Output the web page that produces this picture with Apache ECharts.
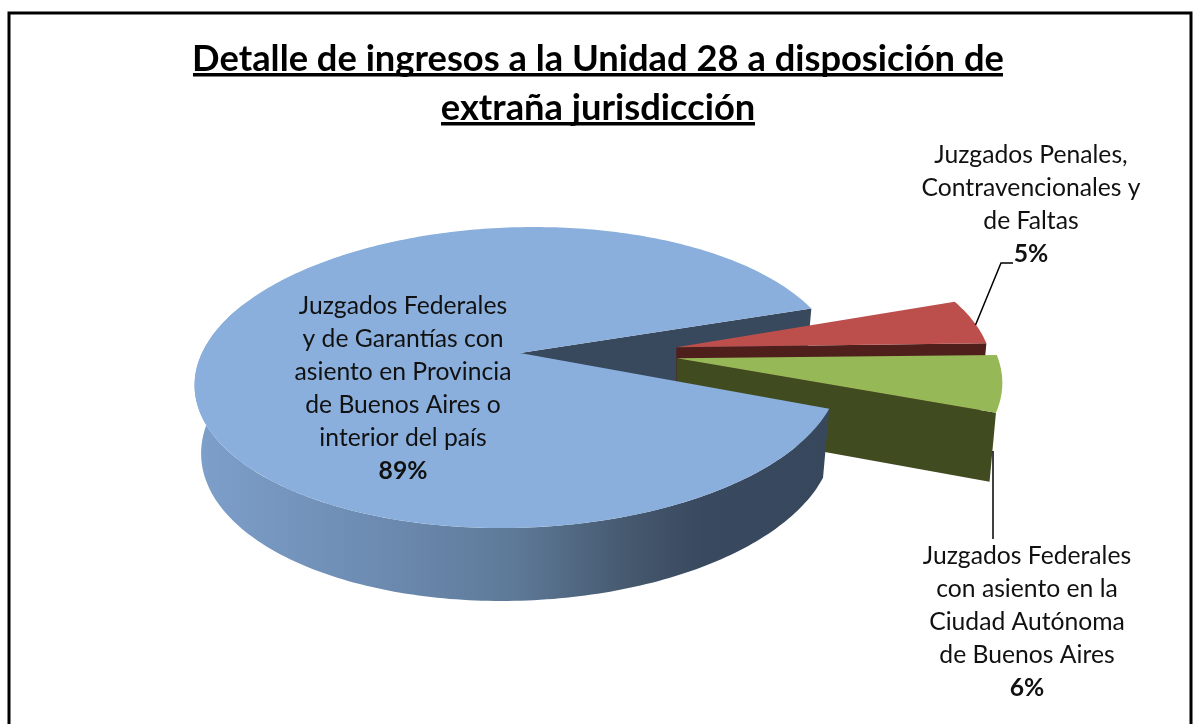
<!DOCTYPE html>
<html>
<head>
<meta charset="utf-8">
<title>Detalle de ingresos</title>
<script src="https://cdn.jsdelivr.net/npm/echarts@6/dist/echarts.min.js"></script>
<style>
  html, body { margin: 0; padding: 0; background: #fff; }
  #chart { width: 1196px; height: 724px; }
</style>
</head>
<body>
<div id="chart"></div>
<script>
// datos
const categories = [
  'Juzgados Federales\ny de Garantías con\nasiento en Provincia\nde Buenos Aires o\ninterior del país',
  'Juzgados Penales,\nContravencionales y\nde Faltas',
  'Juzgados Federales\ncon asiento en la\nCiudad Autónoma\nde Buenos Aires'
]
const values = [89, 5, 6]
const titleText = 'Detalle de ingresos a la Unidad 28 a disposición de\nextraña jurisdicción'

// estilo de cada porción
const explode = [0, 0.5, 0.5]
const sliceScale = [1, 0.98, 1.01]
const sliceSkew = [-16, 0, 0]
const sliceTurn = [0, -1, -0.6]
const topColors = ['#8aafdd', '#bc4f4b', '#97b857']
const wallColors = ['#38485d', '#4f1f1c', '#404b20']
const labelPos = [[403, 389], [1031, 205], [1027, 622]]
const labelFont = 'Lato'

// pie 3D: disco en perspectiva
const cx = 520, cy = 353
const rx = 318, ry = 146.5, persp = 0.163
const firstAngle = 21 // donde arranca la primera porción, en grados
const total = values.reduce((a, b) => a + b, 0)

const project = (deg, s, lower) => {
  const u = Math.cos(deg * Math.PI / 180)
  const v = Math.sin(deg * Math.PI / 180)
  const den = 1 - persp * v
  const x = (rx * s.scale * u + s.skew * v) / den
  const y = ry * s.scale * v / den
  if (!lower) return [cx + s.ox + x, cy + s.oy + y]
  const depth = 67 / (1 - persp * 0.5 * v)
  return [cx + s.ox + 0.98 * x, cy + s.oy + depth + y]
}

const arc = (from, to, s, lower) => {
  const pts = []
  const n = Math.max(2, Math.ceil(Math.abs(to - from)))
  for (let i = 0; i <= n; i++) pts.push(project(from + (to - from) * i / n, s, lower))
  return pts
}

const poly = (points, fill, z2) => ({
  type: 'polygon',
  shape: { points },
  style: { fill },
  z2
})

const blueWallGradient = {
  type: 'linear', x: 196, y: 0, x2: 829, y2: 0, global: true,
  colorStops: [
    { offset: 0, color: '#7d9fca' },
    { offset: 0.3, color: '#6c8ab0' },
    { offset: 0.5, color: '#5e7a99' },
    { offset: 0.68, color: '#46596f' },
    { offset: 0.8, color: '#39495f' },
    { offset: 1, color: '#37475c' }
  ]
}

const renderSlice = (params, api) => {
  const i = params.dataIndex
  const before = values.slice(0, i).reduce((a, b) => a + b, 0)
  const start = firstAngle + before / total * 360 + sliceTurn[i]
  const end = start + api.value(0) / total * 360
  const mid = (start + end) / 2
  const s = {
    ox: explode[i] * rx * Math.cos(mid * Math.PI / 180),
    oy: explode[i] * ry * Math.sin(mid * Math.PI / 180) * 0.42,
    scale: sliceScale[i],
    skew: sliceSkew[i]
  }
  const apex = [cx + s.ox, cy + s.oy]
  const apexLow = [apex[0], apex[1] + 67]
  const topArc = arc(start, end, s, false)
  const wall = poly([apex, topArc[topArc.length - 1], project(end, s, true), apexLow], wallColors[i], i === 0 ? 1 : i * 2)
  const children = [wall]

  if (i === 0) {
    // pared exterior con degradé
    const wallEnd = 200
    children.push(poly(arc(start, wallEnd, s, false).concat(arc(wallEnd, start, s, true)), blueWallGradient, 6))
    children.push(poly([apex].concat(topArc), topColors[0], 7))
  } else {
    children.push(poly([apex].concat(topArc), topColors[i], i * 2 + 1))
  }

  const pct = Math.round(api.value(0) / total * 100) + '%'
  children.push({
    type: 'text',
    z2: 10,
    style: {
      x: labelPos[i][0],
      y: labelPos[i][1],
      align: 'center',
      verticalAlign: 'middle',
      text: categories[i].split('\n').map((t) => '{n|' + t + '}').join('\n') + '\n{p|' + pct + '}',
      rich: {
        n: { fontFamily: labelFont, fontSize: 24.7, lineHeight: 33, fill: '#111', align: 'center' },
        p: { fontFamily: labelFont, fontSize: 24.7, fontWeight: 'bold', lineHeight: 33, fill: '#111', align: 'center' }
      }
    }
  })
  return { type: 'group', children }
}

const chart = echarts.init(document.getElementById('chart'), null, { renderer: 'canvas' })

const option = {
  backgroundColor: '#fff',
  animation: false,
  title: {
    text: titleText,
    left: 593,
    top: 30,
    textAlign: 'center',
    textStyle: {
      fontFamily: labelFont,
      fontWeight: 'bold',
      fontSize: 36.3,
      lineHeight: 49,
      color: '#000'
    }
  },
  graphic: [
    // subrayado del título
    { type: 'rect', shape: { x: 193, y: 73, width: 810, height: 3.5 }, style: { fill: '#000' } },
    { type: 'rect', shape: { x: 441, y: 122, width: 314, height: 3.5 }, style: { fill: '#000' } },
    // marco
    { type: 'polyline', shape: { points: [[9, 724], [9, 13], [1191, 13], [1191, 724]] }, style: { fill: null, stroke: '#000', lineWidth: 3 } },
    // líneas guía
    { type: 'polyline', z: 5, shape: { points: [[975.5, 325], [1001, 263], [1013, 263]] }, style: { fill: null, stroke: '#000', lineWidth: 1.5 } },
    { type: 'line', z: 5, shape: { x1: 993, y1: 451, x2: 993, y2: 539 }, style: { stroke: '#000', lineWidth: 1.5 } }
  ],
  series: [{
    type: 'custom',
    coordinateSystem: 'none',
    silent: true,
    renderItem: renderSlice,
    data: values.map((v, i) => ({ name: categories[i], value: [v] }))
  }]
}

chart.setOption(option)
</script>
</body>
</html>
